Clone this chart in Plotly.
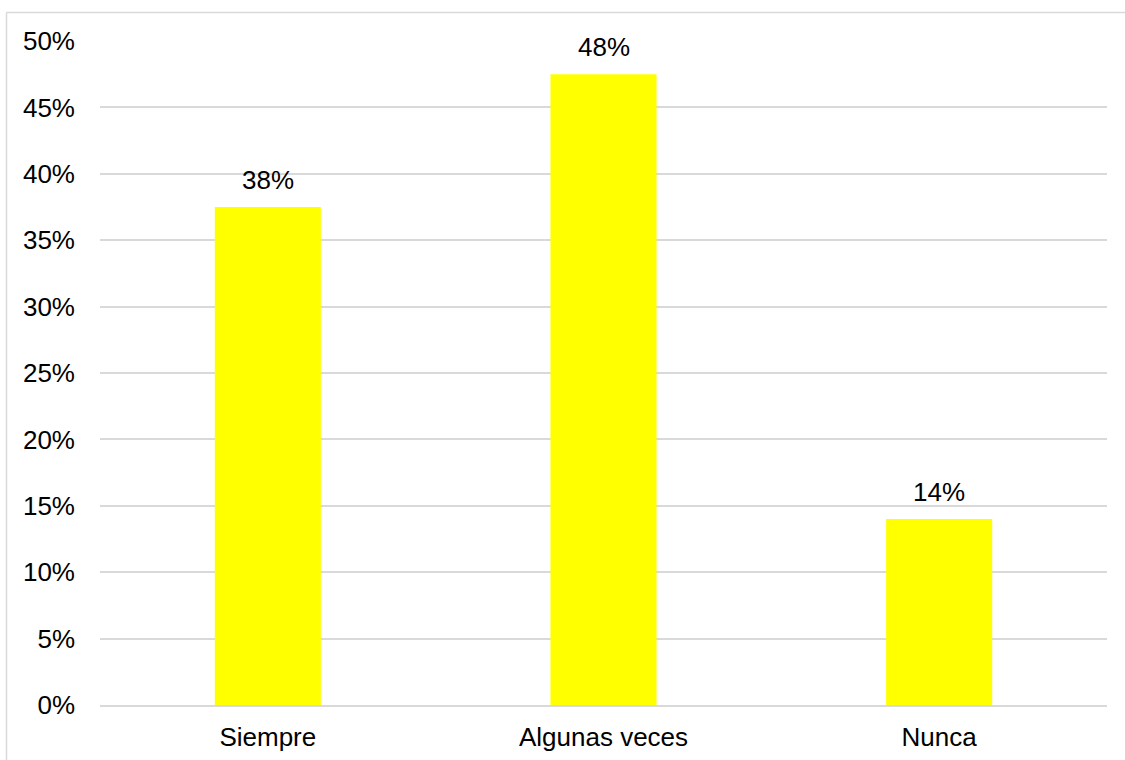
import plotly.graph_objects as go

categories = ["Siempre", "Algunas veces", "Nunca"]
values = [0.375, 0.475, 0.14]
labels = ["38%", "48%", "14%"]
tick_vals = [0, 0.05, 0.10, 0.15, 0.20, 0.25, 0.30, 0.35, 0.40, 0.45, 0.50]
tick_text = ["0%", "5%", "10%", "15%", "20%", "25%", "30%", "35%", "40%", "45%", "50%"]

W, H = 1125, 760
L, R, T, B = 100, 18, 41, 55
pw, ph = W - L - R, H - T - B
FONT = "Liberation Sans, Arial, sans-serif"

fig = go.Figure(go.Bar(
    x=categories, y=values,
    marker=dict(color="#FFFF00", line=dict(width=0)),
    width=0.316, hoverinfo="skip",
))

for c, v, t in zip(categories, values, labels):
    fig.add_annotation(x=c, y=v, text=t, showarrow=False, yanchor="bottom",
                       yshift=10, font=dict(family=FONT, size=26, color="#000000"))

def px(x):
    return (x - L) / pw

def py(y):
    return (H - B - y) / ph

fig.add_shape(type="line", xref="paper", yref="paper",
              x0=px(6.5), x1=px(1130), y0=py(12.5), y1=py(12.5),
              line=dict(color="#d9d9d9", width=1.5))
fig.add_shape(type="line", xref="paper", yref="paper",
              x0=px(6.5), x1=px(6.5), y0=py(12.5), y1=py(770),
              line=dict(color="#d9d9d9", width=1.5))

fig.update_layout(
    width=W, height=H,
    margin=dict(l=L, r=R, t=T, b=B, autoexpand=False),
    paper_bgcolor="white", plot_bgcolor="white",
    showlegend=False,
    font=dict(family=FONT, size=26, color="#000000"),
    yaxis=dict(range=[0, 0.5], tickvals=tick_vals, ticktext=tick_text,
               showgrid=True, gridcolor="#d9d9d9", gridwidth=1.5,
               zeroline=False, showline=False, ticks="", ticklabelstandoff=24,
               tickfont=dict(size=26), automargin=False),
    xaxis=dict(showgrid=False, showline=True, linecolor="#d9d9d9", linewidth=1.5,
               ticks="", tickfont=dict(size=26), ticklabelstandoff=8,
               automargin=False),
)

fig.write_html("out.html", config={"displayModeBar": False},
               post_script="document.body.style.margin='0';")
